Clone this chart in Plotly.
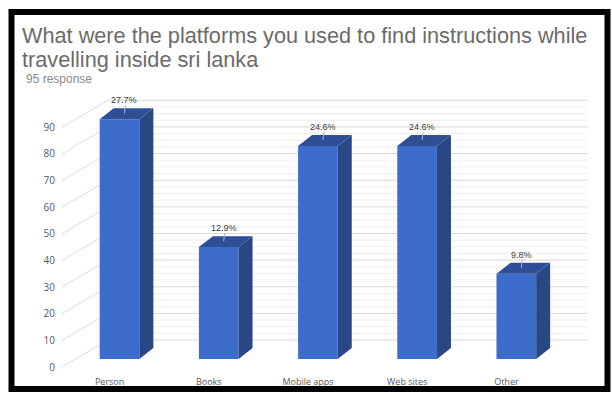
import plotly.graph_objects as go

# Survey results: platforms used to find directions while travelling in Sri Lanka
categories = ["Person", "Books", "Mobile apps", "Web sites", "Other"]
counts = [90, 42, 80, 80, 32]
shares = [27.7, 12.9, 24.6, 24.6, 9.8]
grid_values = [0, 10, 20, 30, 40, 50, 60, 70, 80, 90]

title_lines = ["What were the platforms you used to find instructions while",
               "travelling inside sri lanka"]
subtitle_text = "95 response"

# Pseudo-3D geometry (data units)
BAR_W = 0.40
DEPTH_X = 0.141      # horizontal offset of a bar's back face
DEPTH_Y = 4.1        # vertical offset of a bar's back face
FLOOR_SHIFT = -3.0   # front edge of the floor (where the value labels sit)
WALL_SHIFT = 7.125   # back wall position relative to the bar front plane
WALL_X0 = -0.116     # left corner of the back wall
WALL_X1 = 4.72
SIDE_X0 = -0.58

FRONT = "#3d6dcc"
SIDE = "#2a4785"
TOP = "#2e4f96"

W, H = 612, 394
ML, MR, MT, MB = 60, 22, 99, 27


def px_paper(px, py):
    """Page pixel -> paper coordinates."""
    return (px - ML) / (W - ML - MR), (H - MB - py) / (H - MT - MB)


fig = go.Figure()
fig.add_trace(go.Bar(
    x=list(range(len(categories))), y=counts, width=BAR_W,
    marker=dict(color=FRONT, line=dict(width=0)),
    hoverinfo="skip", showlegend=False,
))

shapes = []
# Back wall gridlines with the slanted side-wall lines
for g in grid_values:
    shapes.append(dict(type="line", xref="x", yref="y", layer="below",
                       x0=SIDE_X0, y0=g + FLOOR_SHIFT, x1=WALL_X0, y1=g + WALL_SHIFT,
                       line=dict(color="#dcdcdc", width=1)))
    shapes.append(dict(type="line", xref="x", yref="y", layer="below",
                       x0=WALL_X0, y0=g + WALL_SHIFT, x1=WALL_X1, y1=g + WALL_SHIFT,
                       line=dict(color="#d9d9d9", width=1)))
    if g < grid_values[-1]:
        for m in (2.5, 5.0, 7.5):
            shapes.append(dict(type="line", xref="x", yref="y", layer="below",
                               x0=WALL_X0, y0=g + m + WALL_SHIFT, x1=WALL_X1,
                               y1=g + m + WALL_SHIFT,
                               line=dict(color="#efefef", width=1)))

# Side and top faces of every bar
for i, v in enumerate(counts):
    xl, xr = i - BAR_W / 2, i + BAR_W / 2
    side = (f"M {xr},0 L {xr + DEPTH_X},{DEPTH_Y} L {xr + DEPTH_X},{v + DEPTH_Y} "
            f"L {xr},{v} Z")
    top = (f"M {xl},{v} L {xr},{v} L {xr + DEPTH_X},{v + DEPTH_Y} "
           f"L {xl + DEPTH_X},{v + DEPTH_Y} Z")
    shapes.append(dict(type="path", xref="x", yref="y", layer="above", path=side,
                       fillcolor=SIDE, line=dict(width=0)))
    shapes.append(dict(type="path", xref="x", yref="y", layer="above", path=top,
                       fillcolor=TOP, line=dict(width=0)))
    # leader from the share label to the top face
    shapes.append(dict(type="line", xref="x", yref="y", layer="above",
                       x0=i + 0.06, y0=v + DEPTH_Y + 1.2, x1=i + 0.05, y1=v + 2.2,
                       line=dict(color="#9fb6df", width=1)))

# Outer black frame
fx0, fy0 = px_paper(11.5, 12)
fx1, fy1 = px_paper(607.5, 389)
shapes.append(dict(type="rect", xref="paper", yref="paper", layer="above",
                   x0=fx0, y0=fy0, x1=fx1, y1=fy1,
                   line=dict(color="#000000", width=6)))

annotations = []
for i, (v, s) in enumerate(zip(counts, shares)):
    annotations.append(dict(
        x=i + 0.05, y=v + DEPTH_Y + 3.0, xref="x", yref="y",
        text=f"{s}%", showarrow=False, xanchor="center", yanchor="middle",
        font=dict(family="Liberation Sans Narrow, Liberation Sans, Arial", size=9,
                  color="#3a3a3a"),
    ))

# Heading (two lines, tight spacing) and response count
for line, cy in zip(title_lines, (35, 59)):
    tx, ty = px_paper(20, cy)
    annotations.append(dict(
        x=tx, y=ty, xref="paper", yref="paper", text=line, showarrow=False,
        xanchor="left", yanchor="middle",
        font=dict(family="Liberation Sans, Arial", size=21.7, color="#6b6b6b"),
    ))

sx, sy = px_paper(24, 79)
annotations.append(dict(
    x=sx, y=sy, xref="paper", yref="paper", text=subtitle_text, showarrow=False,
    xanchor="left", yanchor="middle",
    font=dict(family="Liberation Sans, Arial", size=12, color="#8a8a8a"),
))

fig.update_layout(
    width=W, height=H,
    margin=dict(l=ML, r=MR, t=MT, b=MB, autoexpand=False),
    paper_bgcolor="white", plot_bgcolor="white",
    xaxis=dict(range=[-0.6, -0.6 + (W - ML - MR) / 99.2], automargin=False,
               tickmode="array", tickvals=[i - 0.1 for i in range(len(categories))],
               ticktext=categories, showgrid=False, zeroline=False, showline=False,
               ticks="", ticklabelstandoff=8,
               tickfont=dict(family="Open Sans, Noto Sans", size=9, color="#595959")),
    yaxis=dict(range=[FLOOR_SHIFT, 97.6], automargin=False,
               tickmode="array", tickvals=[g + FLOOR_SHIFT for g in grid_values],
               ticktext=[str(g) for g in grid_values],
               showgrid=False, zeroline=False, showline=False, ticks="",
               ticklabelstandoff=4,
               tickfont=dict(family="Open Sans, Noto Sans", size=10, color="#595959")),
    shapes=shapes,
    annotations=annotations,
    bargap=0.6,
)

fig.write_html("out.html")
